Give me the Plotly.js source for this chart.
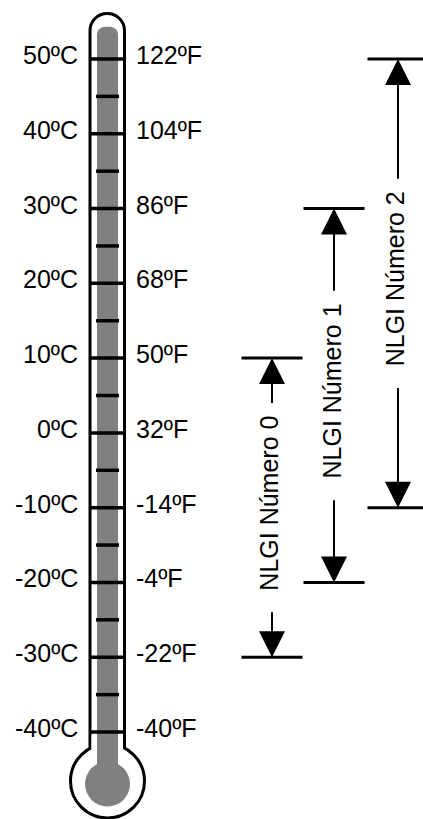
<!DOCTYPE html>
<html>
<head>
<meta charset="utf-8">
<script src="https://cdn.plot.ly/plotly-3.0.1.min.js"></script>
<style>html,body{margin:0;padding:0;background:#fff;}#chart{width:423px;height:819px;}</style>
</head>
<body>
<div id="chart"></div>
<script>
// ---- data ----
const celsius = [50, 40, 30, 20, 10, 0, -10, -20, -30, -40];
const celsiusLabels = ['50ºC', '40ºC', '30ºC', '20ºC', '10ºC', '0ºC', '-10ºC', '-20ºC', '-30ºC', '-40ºC'];
const fahrenheitLabels = ['122ºF', '104ºF', '86ºF', '68ºF', '50ºF', '32ºF', '-14ºF', '-4ºF', '-22ºF', '-40ºF'];
const minorTicks = [45, 35, 25, 15, 5, -5, -15, -25, -35];
const nlgiLabels = ['NLGI Número 0', 'NLGI Número 1', 'NLGI Número 2'];
const nlgiMin = [-30, -20, -10];
const nlgiMax = [10, 30, 50];

// ---- layout constants ----
const W = 423, H = 819;
const pxPerDeg = 673 / 90;           // vertical scale
const topTemp = 50 + 59 / pxPerDeg;  // temperature at top edge
const botTemp = 50 - 760 / pxPerDeg; // temperature at bottom edge
const nlgiX = [272, 334, 398];
const barHalf = 30.5;
const gapDeg = 13.8;
const font = {family: 'Arial, "Liberation Sans", sans-serif', size: 25, color: '#000'};
const GRAY = '#808080';

const shapes = [];
const annotations = [];

// thermometer body (pixel-like axis y2)
shapes.push({type: 'circle', xref: 'x', yref: 'y2', x0: 70.5, x1: 144.5, y0: 744, y1: 818,
  fillcolor: '#fff', line: {color: '#000', width: 3}});
shapes.push({type: 'path', xref: 'x', yref: 'y2',
  path: 'M90,749 L90,30.75 C90,21.2 97.7,13.5 107.25,13.5 C116.8,13.5 124.5,21.2 124.5,30.75 L124.5,749',
  fillcolor: '#fff', line: {color: '#000', width: 3}});
shapes.push({type: 'rect', xref: 'x', yref: 'y2', x0: 91.5, x1: 123, y0: 735, y1: 758,
  fillcolor: '#fff', line: {width: 0}});
shapes.push({type: 'path', xref: 'x', yref: 'y2',
  path: 'M97,790 L97,35 C97,30.3 100.3,26.7 105,26.7 L110,26.7 C114.7,26.7 118,30.3 118,35 L118,790 Z',
  fillcolor: GRAY, line: {width: 0}});
shapes.push({type: 'circle', xref: 'x', yref: 'y2', x0: 85, x1: 130, y0: 761.5, y1: 806.5,
  fillcolor: GRAY, line: {width: 0}});

// major ticks + labels
celsius.forEach((c, i) => {
  shapes.push({type: 'line', xref: 'x', yref: 'y', x0: 89, x1: 126, y0: c, y1: c,
    line: {color: '#000', width: 3.5}});
  annotations.push({x: 80, y: c, xref: 'x', yref: 'y', text: celsiusLabels[i], showarrow: false,
    xanchor: 'right', yanchor: 'middle', yshift: 4, font: font});
  annotations.push({x: 134, y: c, xref: 'x', yref: 'y', text: fahrenheitLabels[i], showarrow: false,
    xanchor: 'left', yanchor: 'middle', yshift: 4, font: font});
});
// minor ticks
minorTicks.forEach(c => {
  shapes.push({type: 'line', xref: 'x', yref: 'y', x0: 96, x1: 119, y0: c, y1: c,
    line: {color: '#000', width: 3.5}});
});

// NLGI ranges
nlgiLabels.forEach((lab, i) => {
  const cx = nlgiX[i], lo = nlgiMin[i], hi = nlgiMax[i], mid = (lo + hi) / 2;
  [lo, hi].forEach(v => shapes.push({type: 'line', xref: 'x', yref: 'y',
    x0: cx - barHalf, x1: cx + barHalf, y0: v, y1: v, line: {color: '#000', width: 3}}));
  annotations.push({x: cx, y: mid, xref: 'x', yref: 'y', text: lab, showarrow: false,
    textangle: -90, xanchor: 'center', yanchor: 'middle', xshift: -3, yshift: 4, font: font});
  annotations.push({x: cx, y: hi, xref: 'x', yref: 'y', ax: cx, ay: mid + gapDeg, axref: 'x', ayref: 'y',
    text: '', showarrow: true, arrowhead: 2, arrowsize: 2.6, arrowwidth: 2, arrowcolor: '#000', standoff: 0});
  annotations.push({x: cx, y: lo, xref: 'x', yref: 'y', ax: cx, ay: mid - gapDeg, axref: 'x', ayref: 'y',
    text: '', showarrow: true, arrowhead: 2, arrowsize: 2.6, arrowwidth: 2, arrowcolor: '#000', standoff: 0});
});

const data = [
  {x: [], y: [], type: 'scatter', xaxis: 'x', yaxis: 'y', hoverinfo: 'skip'},
  {x: [], y: [], type: 'scatter', xaxis: 'x', yaxis: 'y2', hoverinfo: 'skip'}
];
const layout = {
  width: W, height: H, margin: {l: 0, r: 0, t: 0, b: 0, pad: 0},
  paper_bgcolor: '#fff', plot_bgcolor: '#fff', showlegend: false,
  xaxis: {range: [0, W], visible: false, fixedrange: true},
  yaxis: {range: [botTemp, topTemp], visible: false, fixedrange: true},
  yaxis2: {range: [H, 0], visible: false, overlaying: 'y', fixedrange: true},
  shapes: shapes, annotations: annotations
};
Plotly.newPlot('chart', data, layout, {displayModeBar: false, staticPlot: true});
</script>
</body>
</html>
